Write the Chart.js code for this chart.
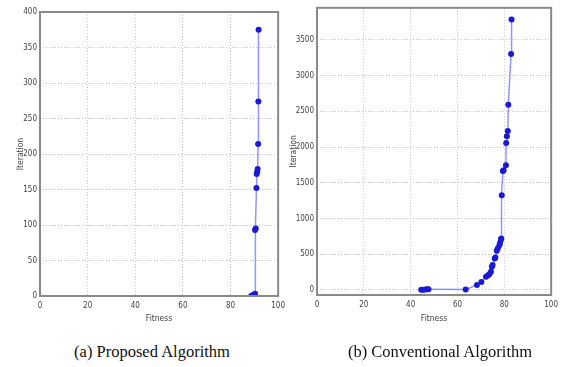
<!DOCTYPE html>
<html>
<head>
<meta charset="utf-8">
<script src="https://cdn.jsdelivr.net/npm/chart.js@4.4.0/dist/chart.umd.min.js"></script>
<style>
  html, body { margin: 0; padding: 0; background: #fff; width: 563px; height: 367px; overflow: hidden; }
  .box { position: absolute; }
  .cap { position: absolute; font-family: "Liberation Serif", "Times New Roman", serif; font-size: 16.5px; color: #111; white-space: nowrap; transform: translateX(-50%); }
</style>
</head>
<body>
<div class="box" id="boxA" style="left:0px; top:0px; width:290px; height:330px;"><canvas id="cA"></canvas></div>
<div class="box" id="boxB" style="left:285px; top:0px; width:278px; height:330px;"><canvas id="cB"></canvas></div>
<div class="cap" style="left:152px; top:342px;">(a) Proposed Algorithm</div>
<div class="cap" style="left:440px; top:342px;">(b) Conventional Algorithm</div>
<script>
// ---- data ----
const propFitness = [88.7, 89.2, 90.3, 90.3, 90.6, 90.9, 91.0, 91.2, 91.4, 91.6, 91.7, 91.8];
const propIteration = [0, 1, 3, 93, 95, 152, 172, 175, 179, 214, 274, 375];

const convFitness = [44.5, 45.3, 46.2, 47.0, 47.6, 63.5, 68.3, 70.2, 72.2, 73.1, 73.7, 74.3, 74.7, 75.0, 75.9, 76.2, 76.8, 77.2, 77.9, 78.2, 78.6, 78.7, 78.9, 79.4, 79.7, 80.7, 80.8, 81.1, 81.5, 81.7, 82.9, 83.1];
const convIteration = [2, 5, 8, 10, 12, 8, 70, 112, 186, 205, 223, 256, 326, 349, 442, 456, 549, 582, 628, 661, 708, 722, 1327, 1667, 1676, 1746, 2058, 2151, 2225, 2593, 3305, 3785];

const xTicks = [0, 20, 40, 60, 80, 100];
const propYTicks = [0, 50, 100, 150, 200, 250, 300, 350, 400];
const convYTicks = [0, 500, 1000, 1500, 2000, 2500, 3000, 3500];

const xTitle = "Fitness";
const yTitle = "Iteration";

// ---- styling ----
const tickFont = { family: "'DejaVu Sans Condensed', 'DejaVu Sans', sans-serif", size: 8 };
const titleFont = { family: "'DejaVu Sans Condensed', 'DejaVu Sans', sans-serif", size: 8.5 };
const lineColor = 'rgba(90, 90, 255, 0.65)';
const pointColor = '#1a1ad6';

const framePlugin = {
  id: 'frame',
  afterDatasetsDraw(chart) {
    const a = chart.chartArea, ctx = chart.ctx;
    ctx.save();
    ctx.strokeStyle = '#8a8a8a';
    ctx.lineWidth = 2;
    ctx.strokeRect(a.left, a.top, a.right - a.left, a.bottom - a.top);
    ctx.restore();
  }
};

function makeChart(id, xs, ys, yTickVals, yMin, yMax, yAxisWidth, xAxisHeight, pad, titlePad) {
  const pts = xs.map((x, i) => ({ x: x, y: ys[i] }));
  return new Chart(document.getElementById(id), {
    type: 'scatter',
    data: {
      datasets: [{
        data: pts,
        showLine: true,
        borderColor: lineColor,
        borderWidth: 1.5,
        pointRadius: 3,
        pointHoverRadius: 3,
        pointBackgroundColor: pointColor,
        pointBorderColor: pointColor,
        pointBorderWidth: 0,
        tension: 0
      }]
    },
    options: {
      responsive: true,
      maintainAspectRatio: false,
      animation: false,
      devicePixelRatio: 1,
      layout: { padding: pad },
      plugins: { legend: { display: false }, tooltip: { enabled: false } },
      scales: {
        x: {
          type: 'linear', min: 0, max: 100,
          afterBuildTicks: s => { s.ticks = xTicks.map(v => ({ value: v })); },
          afterFit: s => { s.height = xAxisHeight; },
          ticks: { font: tickFont, color: '#444', padding: 5, maxRotation: 0, callback: v => String(v) },
          grid: { color: '#c8c8c8', lineWidth: 1, drawTicks: false, tickLength: 0 },
          border: { display: false, dash: [1, 2] },
          title: { display: true, text: xTitle, font: titleFont, color: '#444', padding: { top: 0, bottom: 0 } }
        },
        y: {
          type: 'linear', min: yMin, max: yMax,
          afterBuildTicks: s => { s.ticks = yTickVals.map(v => ({ value: v })); },
          afterFit: s => { s.width = yAxisWidth; },
          ticks: { font: tickFont, color: '#444', padding: 3, callback: v => String(v) },
          grid: { color: '#c8c8c8', lineWidth: 1, drawTicks: false, tickLength: 0 },
          border: { display: false, dash: [1, 2] },
          title: { display: true, text: yTitle, font: titleFont, color: '#444', padding: titlePad }
        }
      }
    },
    plugins: [framePlugin]
  });
}

const cA = makeChart('cA', propFitness, propIteration, propYTicks, 0, 400, 40, 28,
  { left: 0, right: 11, top: 12, bottom: 6 }, { top: 16, bottom: 0 });
const cB = makeChart('cB', convFitness, convIteration, convYTicks, -70, 3950, 32, 29,
  { left: 0, right: 8, top: 7, bottom: 6 }, { top: 4, bottom: 0 });
</script>
</body>
</html>
